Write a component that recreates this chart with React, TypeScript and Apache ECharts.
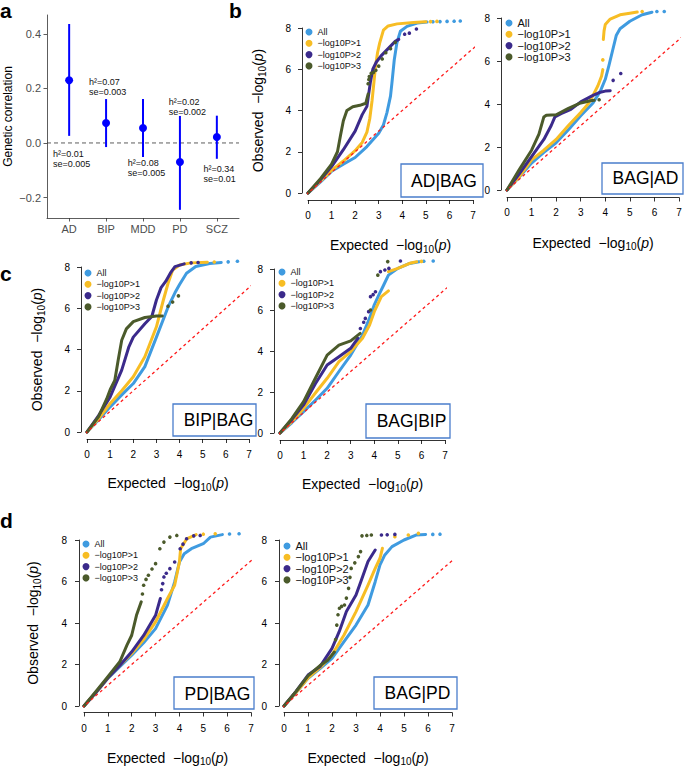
import React, { useEffect, useRef } from 'react';
import * as echarts from 'echarts';

const FONT = "'Liberation Sans', Arial, Helvetica, sans-serif";

// ---------- Panel a: genetic correlation ----------
const rgCategories = ['AD', 'BIP', 'MDD', 'PD', 'SCZ'];
const rgEstimate = [0.23, 0.073, 0.055, -0.07, 0.022];
const rgLower = [0.026, -0.015, -0.051, -0.245, -0.058];
const rgUpper = [0.436, 0.161, 0.161, 0.099, 0.1];
const rgH2 = ['0.01', '0.07', '0.08', '0.02', '0.34'];
const rgSe = ['0.005', '0.003', '0.005', '0.002', '0.01'];
const rgNoteX = [0.56, 1.535, 2.59, 3.7, 4.64];
const rgNoteY = [-0.059, 0.205, -0.092, 0.132, -0.114];
const rgYTicks = [-0.2, 0, 0.2, 0.4];
const rgXTicks = [1, 2, 3, 4, 5];

// ---------- QQ plots ----------
const qqGroups = ['All', '\u2212log10P>1', '\u2212log10P>2', '\u2212log10P>3'];
const qqDiagonal = [[-0.28, -0.28], [7.28, 7.28]];

// AD|BAG
const adBagAll = [[0,0],[0.5,0.5],[1,1.05],[1.5,1.4],[2,1.72],[2.5,2.25],[3,2.9],[3.2,3.3],[3.35,3.9],[3.5,4.7],[3.56,5.33],[3.66,6.46],[3.77,7.27],[3.92,7.84],[4.2,8.08],[4.63,8.24],[5.05,8.29]];
const adBagAllTail = [[5.3,8.3],[5.6,8.31],[5.9,8.32],[6.2,8.33],[6.46,8.34]];
const adBagP1 = [[0,0],[0.5,0.55],[1,1.1],[1.5,1.55],[2,2.05],[2.3,2.45],[2.5,2.95],[2.62,3.6],[2.72,4.5],[2.8,5.4],[2.86,6.1],[2.95,6.8],[3.04,7.27],[3.2,7.9],[3.4,8.1],[3.78,8.2],[4.48,8.27],[5.0,8.3]];
const adBagP1Tail = [[5.2,8.31],[5.47,8.32]];
const adBagP2 = [[0,0],[0.5,0.6],[1,1.28],[1.5,2.1],[2,3.0],[2.3,3.8],[2.5,4.2],[2.55,4.6],[2.65,5.4],[2.75,6.0],[2.9,6.35],[3.1,6.65],[3.4,7.0],[3.7,7.35],[3.85,7.45]];
const adBagP2Tail = [[4.1,7.7],[4.3,7.75],[4.6,7.95]];
const adBagP3 = [[0,0],[0.5,0.65],[1,1.4],[1.25,2.0],[1.38,2.8],[1.5,3.5],[1.65,4.0],[1.9,4.18],[2.2,4.25],[2.45,4.35],[2.55,4.8]];
const adBagP3Tail = [[2.55,5.3],[2.58,5.5],[2.6,5.65],[2.68,5.8],[2.78,5.85],[2.88,5.95],[3.0,6.15],[3.15,6.5],[3.3,6.8],[3.5,7.0],[3.7,7.3]];

// BAG|AD
const bagAdAll = [[0,0],[0.5,0.6],[1,1.25],[1.5,1.75],[2,2.2],[2.5,2.8],[3,3.45],[3.5,4.05],[3.8,4.6],[4,5.15],[4.15,5.8],[4.3,6.5],[4.45,7.2],[4.6,7.5],[5,7.85],[5.5,8.15],[5.9,8.27]];
const bagAdAllTail = [[6.1,8.3],[6.4,8.3]];
const bagAdP1 = [[0,0],[0.5,0.62],[1,1.4],[1.5,1.85],[2,2.35],[2.5,3.0],[3,3.6],[3.3,4.0],[3.5,4.4],[3.7,4.85],[3.85,5.3],[3.9,5.6],[3.91,'-'],[3.92,7.0],[3.95,7.4],[4.0,7.7],[4.2,7.95],[4.6,8.15],[5.0,8.22],[5.3,8.28]];
const bagAdP1Tail = [[3.9,6.05],[5.5,8.3]];
const bagAdP2 = [[0,0],[0.5,0.75],[1,1.55],[1.5,2.35],[1.8,3.0],[1.95,3.4],[2.2,3.55],[2.6,3.75],[3,4.1],[3.5,4.4],[3.8,4.55],[4.0,4.6],[4.2,4.62]];
const bagAdP2Tail = [[4.32,5.1],[4.63,5.42]];
const bagAdP3 = [[0,0],[0.5,0.95],[1,1.85],[1.3,2.6],[1.5,3.4],[1.6,3.48],[2,3.5],[2.5,3.8],[3,4.05],[3.4,4.15],[3.55,4.17]];
const bagAdP3Tail = [[3.75,4.2]];

// BIP|BAG
const bipBagAll = [[0,0],[0.5,0.6],[1,1.22],[1.5,1.8],[2,2.35],[2.5,3.17],[3,4.6],[3.5,6.05],[3.8,6.75],[4,7.15],[4.3,7.7],[4.7,8.02],[5.3,8.17],[5.8,8.22]];
const bipBagAllTail = [[6.1,8.25],[6.5,8.28]];
const bipBagP1 = [[0,0],[0.5,0.65],[1,1.38],[1.5,2.0],[2,2.68],[2.5,3.65],[3,5.1],[3.3,6.4],[3.5,7.2],[3.7,7.85],[4,8.1],[4.5,8.2],[5.2,8.23]];
const bipBagP1Tail = [[5.5,8.24]];
const bipBagP2 = [[0,0],[0.5,0.8],[1,1.7],[1.5,3.0],[1.8,4.1],[2,4.6],[2.5,5.25],[2.8,5.6],[3,6.4],[3.2,7.0],[3.4,7.3],[3.6,7.7],[3.8,8.02],[4.2,8.15]];
const bipBagP2Tail = [[4.5,8.2],[4.8,8.22]];
const bipBagP3 = [[0,0],[0.5,0.75],[0.85,1.6],[1,2.05],[1.2,2.5],[1.35,3.5],[1.5,4.45],[1.7,5.0],[2,5.35],[2.5,5.55],[3.0,5.62],[3.25,5.63]];
const bipBagP3Tail = [[3.5,6.1],[3.7,6.3],[3.95,6.6]];

// BAG|BIP
const bagBipAll = [[0,0],[0.5,0.5],[1,1.04],[1.5,1.6],[2,2.18],[2.5,3.0],[3,3.8],[3.5,4.78],[3.8,5.6],[4,6.25],[4.2,6.75],[4.4,7.22],[4.6,7.7],[5,8.03],[5.5,8.27],[5.9,8.35]];
const bagBipAllTail = [[6.1,8.38],[6.5,8.39]];
const bagBipP1 = [[0,0],[0.5,0.55],[1,1.2],[1.5,1.95],[2,2.67],[2.5,3.48],[3,3.97],[3.5,4.62],[3.8,5.27],[4,5.92],[4.3,6.65],[4.6,6.93],[4.6,'-'],[4.6,7.87],[5,8.03],[5.5,8.28],[5.8,8.35]];
const bagBipP1Tail = [[6.0,8.37]];
const bagBipP2 = [[0,0],[0.5,0.65],[1,1.37],[1.5,2.4],[2,3.32],[2.5,3.72],[3,4.13],[3.3,4.62]];
const bagBipP2Tail = [[3.41,5.1],[3.55,5.4],[3.62,5.59],[3.76,5.92],[3.84,6.65],[3.95,6.75],[4.05,6.89],[4.26,7.87],[4.45,7.95],[4.62,8.03],[5.11,8.39]];
const bagBipP3 = [[0,0],[0.5,0.7],[1,1.53],[1.5,2.67],[2,3.8],[2.5,4.29],[3,4.49],[3.4,4.86]];
const bagBipP3Tail = [[3.84,6.0],[4.15,7.7],[4.57,8.36]];

// PD|BAG
const pdBagAll = [[0,0],[0.5,0.65],[1,1.33],[1.5,1.9],[2,2.45],[2.5,3.05],[3,3.73],[3.5,4.86],[3.8,5.98],[4,6.94],[4.2,7.34],[4.5,7.58],[5,7.82],[5.3,8.14],[5.8,8.26]];
const pdBagAllTail = [[6.1,8.29],[6.5,8.3]];
const pdBagP1 = [[0,0],[0.5,0.65],[1,1.35],[1.5,1.95],[2,2.53],[2.5,3.2],[3,4.05],[3.5,5.18],[3.8,5.82],[4,6.94],[4.05,7.58],[4.3,8.05],[4.7,8.26]];
const pdBagP1Tail = [[5.0,8.28],[5.5,8.3]];
const pdBagP2 = [[0,0],[0.5,0.65],[1,1.35],[1.5,1.95],[2,2.61],[2.5,3.4],[3,4.37],[3.2,5.18]];
const pdBagP2Tail = [[3.25,5.6],[3.3,5.9],[3.35,6.22],[3.45,6.4],[3.6,6.62],[3.8,6.94],[4.03,7.58],[4.15,7.8],[4.3,8.06],[4.6,8.2],[4.87,8.22]];
const pdBagP3 = [[0,0],[0.5,0.7],[1,1.41],[1.5,2.13],[1.8,2.93],[2,3.41],[2.2,4.37],[2.4,5.02]];
const pdBagP3Tail = [[2.45,5.4],[2.5,5.82],[2.6,6.1],[2.7,6.3],[2.85,6.6],[3.0,6.86],[3.18,7.58],[3.35,7.9],[3.6,8.14],[3.89,8.22]];

// BAG|PD
const bagPdAll = [[0,0],[0.5,0.65],[1,1.33],[1.5,1.8],[2,2.3],[2.5,3.1],[3,3.9],[3.5,4.87],[3.8,5.99],[4,6.8],[4.2,7.28],[4.5,7.68],[5,8.0],[5.5,8.24],[5.9,8.27]];
const bagPdAllTail = [[6.2,8.27],[6.5,8.28]];
const bagPdP1 = [[0,0],[0.5,0.65],[1,1.35],[1.5,1.85],[2,2.46],[2.5,3.42],[3,4.55],[3.5,5.83],[3.8,6.63],[4,7.12],[4.1,7.6]];
const bagPdP1Tail = [[4.62,8.16],[5.18,8.24],[5.6,8.32]];
const bagPdP2 = [[0,0],[0.5,0.7],[1,1.49],[1.5,1.9],[2,2.78],[2.3,3.58],[2.6,4.55],[3,5.35],[3.2,5.99],[3.5,6.96],[3.8,7.52]];
const bagPdP2Tail = [[4.06,8.24],[4.3,8.25],[4.62,8.27]];
const bagPdP3 = [[0,0],[0.5,0.7],[1,1.45],[1.5,1.95],[1.82,2.2],[2.1,2.6]];
const bagPdP3Tail = [[2.15,3.2],[2.2,3.9],[2.25,4.4],[2.31,4.71],[2.4,4.8],[2.52,4.87],[2.6,5.2],[2.69,5.67],[2.75,6.2],[2.8,6.63],[2.95,6.9],[3.1,7.2],[3.19,7.44],[3.25,8.2],[3.45,8.22],[3.64,8.24]];

const qqXTicks = [0, 1, 2, 3, 4, 5, 6, 7];
const qqYTicks = [0, 2, 4, 6, 8];

// ---------- layout (positions / sizes only) ----------
const PLOTS = [
  { label: 'AD|BAG', lines: [adBagAll, adBagP1, adBagP2, adBagP3], tails: [adBagAllTail, adBagP1Tail, adBagP2Tail, adBagP3Tail],
    grid: { left: 308, top: 28, width: 165, height: 165 }, xOff: 7, yOff: 6, xGap: 37, yGap: 36, yName: true, xMargin: 10, yMargin: 11,
    legend: { left: 305.5, top: 26.5, font: 9 }, box: { x: 401, y: 164, w: 82, h: 33 }, boxText: { x: 444, y: 181 } },
  { label: 'BAG|AD', lines: [bagAdAll, bagAdP1, bagAdP2, bagAdP3], tails: [bagAdAllTail, bagAdP1Tail, bagAdP2Tail, bagAdP3Tail],
    grid: { left: 507, top: 18, width: 172, height: 172 }, xOff: 7.5, yOff: 6, xGap: 37, yGap: 36, yName: false, xMargin: 10, yMargin: 11,
    legend: { left: 505.5, top: 17.5, font: 11 }, box: { x: 602, y: 163, w: 81, h: 31 }, boxText: { x: 645.5, y: 178 } },
  { label: 'BIP|BAG', lines: [bipBagAll, bipBagP1, bipBagP2, bipBagP3], tails: [bipBagAllTail, bipBagP1Tail, bipBagP2Tail, bipBagP3Tail],
    grid: { left: 87, top: 267, width: 162, height: 165 }, xOff: 7, yOff: 6, xGap: 36, yGap: 36, yName: true, xMargin: 10, yMargin: 11,
    legend: { left: 84.5, top: 267.5, font: 9 }, box: { x: 173, y: 404, w: 83, h: 32 }, boxText: { x: 218.5, y: 420 } },
  { label: 'BAG|BIP', lines: [bagBipAll, bagBipP1, bagBipP2, bagBipP3], tails: [bagBipAllTail, bagBipP1Tail, bagBipP2Tail, bagBipP3Tail],
    grid: { left: 280, top: 269, width: 165, height: 164 }, xOff: 7, yOff: 6, xGap: 36, yGap: 36, yName: false, xMargin: 10, yMargin: 11,
    legend: { left: 278.5, top: 266.5, font: 9 }, box: { x: 366, y: 404, w: 84, h: 34 }, boxText: { x: 411.5, y: 421 } },
  { label: 'PD|BAG', lines: [pdBagAll, pdBagP1, pdBagP2, pdBagP3], tails: [pdBagAllTail, pdBagP1Tail, pdBagP2Tail, pdBagP3Tail],
    grid: { left: 84, top: 540, width: 167, height: 166 }, xOff: 6.5, yOff: 5, xGap: 37, yGap: 38, yName: true, xMargin: 11, yMargin: 12,
    legend: { left: 82.5, top: 538.5, font: 9 }, box: { x: 174, y: 677, w: 80, h: 32 }, boxText: { x: 217.5, y: 694 } },
  { label: 'BAG|PD', lines: [bagPdAll, bagPdP1, bagPdP2, bagPdP3], tails: [bagPdAllTail, bagPdP1Tail, bagPdP2Tail, bagPdP3Tail],
    grid: { left: 284, top: 540, width: 168, height: 166 }, xOff: 6.5, yOff: 5, xGap: 37, yGap: 38, yName: false, xMargin: 11, yMargin: 12,
    legend: { left: 283.5, top: 540.5, font: 11 }, box: { x: 374, y: 677, w: 83, h: 32 }, boxText: { x: 417.5, y: 693 } },
];

const QQ_COLORS = ['#3f9be0', '#f7bd24', '#3b2a8b', '#4b5a2b'];
const PANEL_LETTERS = [
  { t: 'a', x: 0, y: 10 },
  { t: 'b', x: 229, y: 10 },
  { t: 'c', x: 0, y: 273 },
  { t: 'd', x: 0, y: 520 },
];

function richName(prefix: string) {
  return `{t|${prefix}  \u2212log}{s|10}{t|(}{i|p}{t|)}`;
}
const richStyle = {
  t: { fontSize: 14, fontFamily: FONT, color: '#000', verticalAlign: 'middle', lineHeight: 16 },
  i: { fontSize: 14, fontFamily: FONT, color: '#000', fontStyle: 'italic', verticalAlign: 'middle', lineHeight: 16 },
  s: { fontSize: 10, fontFamily: FONT, color: '#000', verticalAlign: 'middle', lineHeight: 16, padding: [8, 0, 0, 0] },
};

function buildOption() {
  const grid: any[] = [];
  const xAxis: any[] = [];
  const yAxis: any[] = [];
  const series: any[] = [];
  const legend: any[] = [];
  const graphic: any[] = [];

  // Panel a
  grid.push({ left: 47, top: 15, width: 192, height: 203, containLabel: false, outerBoundsMode: 'none' });
  xAxis.push({
    type: 'value', gridIndex: 0, min: 0.4, max: 5.6,
    axisLine: { show: true, onZero: false, lineStyle: { color: '#333', width: 0.8 } },
    axisTick: { show: true, customValues: rgXTicks, length: 3.5, lineStyle: { color: '#333', width: 0.8 } },
    axisLabel: { show: true, customValues: rgXTicks, formatter: (v: number) => rgCategories[Math.round(v) - 1] || '',
      fontSize: 11, color: '#4d4d4d', fontFamily: FONT, margin: 5 },
    splitLine: { show: false },
  });
  yAxis.push({
    type: 'value', gridIndex: 0, min: -0.275, max: 0.469,
    name: 'Genetic correlation', nameLocation: 'middle', nameGap: 17,
    nameTextStyle: { fontSize: 12, fontFamily: FONT, color: '#000', lineHeight: 14 },
    axisLine: { show: true, onZero: false, lineStyle: { color: '#333', width: 0.8 } },
    axisTick: { show: true, customValues: rgYTicks, length: 3.5, lineStyle: { color: '#333', width: 0.8 } },
    axisLabel: { show: true, customValues: rgYTicks,
      formatter: (v: number) => (v < 0 ? '\u2212' : '') + Math.abs(v).toFixed(1),
      fontSize: 11, color: '#4d4d4d', fontFamily: FONT, margin: 6 },
    splitLine: { show: false },
  });
  series.push({
    type: 'line', xAxisIndex: 0, yAxisIndex: 0, data: [[0.4, 0], [5.6, 0]], showSymbol: false, silent: true,
    lineStyle: { color: '#333', width: 0.8, type: [4, 3] }, z: 1,
  });
  series.push({
    type: 'custom', xAxisIndex: 0, yAxisIndex: 0, z: 2,
    data: rgCategories.map((_, i) => [i + 1, rgLower[i], rgUpper[i]]),
    renderItem: (params: any, api: any) => {
      const p1 = api.coord([api.value(0), api.value(1)]);
      const p2 = api.coord([api.value(0), api.value(2)]);
      return { type: 'line', shape: { x1: p1[0], y1: p1[1], x2: p2[0], y2: p2[1] }, style: { stroke: '#0000ff', lineWidth: 2 } };
    },
  });
  series.push({
    type: 'scatter', xAxisIndex: 0, yAxisIndex: 0, z: 3, symbolSize: 8,
    itemStyle: { color: '#0000ff', opacity: 1 },
    data: rgCategories.map((_, i) => [i + 1, rgEstimate[i]]),
  });
  series.push({
    type: 'custom', xAxisIndex: 0, yAxisIndex: 0, z: 4,
    data: rgCategories.map((_, i) => [rgNoteX[i], rgNoteY[i]]),
    renderItem: (params: any, api: any) => {
      const p = api.coord([api.value(0), api.value(1)]);
      const i = params.dataIndex;
      return {
        type: 'text', x: p[0], y: p[1],
        style: { text: `h\u00b2=${rgH2[i]}\nse=${rgSe[i]}`, fontSize: 9, fontFamily: FONT, fill: '#111',
          align: 'left', verticalAlign: 'middle', lineHeight: 10 },
      };
    },
  });

  // QQ plots
  PLOTS.forEach((p, k) => {
    const gi = k + 1;
    grid.push({ ...p.grid, containLabel: false, outerBoundsMode: 'none' });
    xAxis.push({
      type: 'value', gridIndex: gi, min: 0, max: 7, interval: 1, offset: p.xOff,
      name: richName('Expected'), nameLocation: 'middle', nameGap: p.xGap,
      nameTextStyle: { rich: richStyle, lineHeight: 16 },
      axisLine: { show: true, onZero: false, lineStyle: { color: '#000', width: 0.8 } },
      axisTick: { show: true, length: 4, lineStyle: { color: '#000', width: 0.8 } },
      axisLabel: { show: true, fontSize: 10, color: '#000', fontFamily: FONT, margin: p.xMargin,
        customValues: qqXTicks },
      splitLine: { show: false },
    });
    yAxis.push({
      type: 'value', gridIndex: gi, min: 0, max: 8, interval: 2, offset: p.yOff,
      name: p.yName ? richName('Observed') : '', nameLocation: 'middle', nameGap: p.yGap,
      nameTextStyle: { rich: richStyle, lineHeight: 16 },
      axisLine: { show: true, onZero: false, lineStyle: { color: '#000', width: 0.8 } },
      axisTick: { show: true, length: 4, lineStyle: { color: '#000', width: 0.8 } },
      axisLabel: { show: true, fontSize: 10, color: '#000', fontFamily: FONT, margin: p.yMargin,
        customValues: qqYTicks },
      splitLine: { show: false },
    });
    p.lines.forEach((arr, j) => {
      series.push({
        type: 'line', name: qqGroups[j], xAxisIndex: gi, yAxisIndex: gi, data: arr, showSymbol: false,
        clip: false, silent: true, connectNulls: false, z: 2 + j,
        itemStyle: { color: QQ_COLORS[j] },
        lineStyle: { color: QQ_COLORS[j], width: 3, cap: 'round', join: 'round' },
      });
      series.push({
        type: 'scatter', name: qqGroups[j], xAxisIndex: gi, yAxisIndex: gi, data: p.tails[j],
        symbolSize: 3.6, clip: false, silent: true, z: 2 + j,
        itemStyle: { color: QQ_COLORS[j], opacity: 1 },
      });
    });
    series.push({
      type: 'line', xAxisIndex: gi, yAxisIndex: gi, data: qqDiagonal, showSymbol: false, clip: false, silent: true, z: 10,
      lineStyle: { color: '#ff1a1a', width: 1.3, type: [3, 3] },
    });
    legend.push({
      show: true, orient: 'vertical', left: p.legend.left, top: p.legend.top, padding: 0,
      itemWidth: 7, itemHeight: 7, itemGap: 0.3, icon: 'circle', selectedMode: false,
      textStyle: { fontSize: p.legend.font, color: '#111', fontFamily: FONT, lineHeight: 11 },
      data: qqGroups,
    });
    graphic.push({
      type: 'rect', shape: { x: p.box.x, y: p.box.y, width: p.box.w, height: p.box.h }, z: 20,
      style: { fill: '#fff', stroke: '#4a7dcc', lineWidth: 1.3 },
    });
    graphic.push({
      type: 'text', x: p.boxText.x, y: p.boxText.y, z: 21,
      style: { text: p.label, fontSize: 17.5, fontFamily: FONT, fill: '#000', align: 'center', verticalAlign: 'middle' },
    });
  });

  PANEL_LETTERS.forEach((l) => {
    graphic.push({
      type: 'text', x: l.x, y: l.y, z: 30,
      style: { text: l.t, fontSize: 21, fontWeight: 'bold', fontFamily: FONT, fill: '#000', align: 'left', verticalAlign: 'middle' },
    });
  });

  return {
    animation: false,
    backgroundColor: '#fff',
    textStyle: { fontFamily: FONT },
    grid, xAxis, yAxis, series, legend, graphic,
  };
}

export default function App() {
  const ref = useRef<HTMLDivElement>(null);
  useEffect(() => {
    document.body.style.margin = '0';
    if (!ref.current) return;
    const chart = echarts.init(ref.current, undefined, { renderer: 'svg' });
    chart.setOption(buildOption() as any);
    return () => chart.dispose();
  }, []);
  return <div ref={ref} style={{ width: 685, height: 767 }} />;
}
